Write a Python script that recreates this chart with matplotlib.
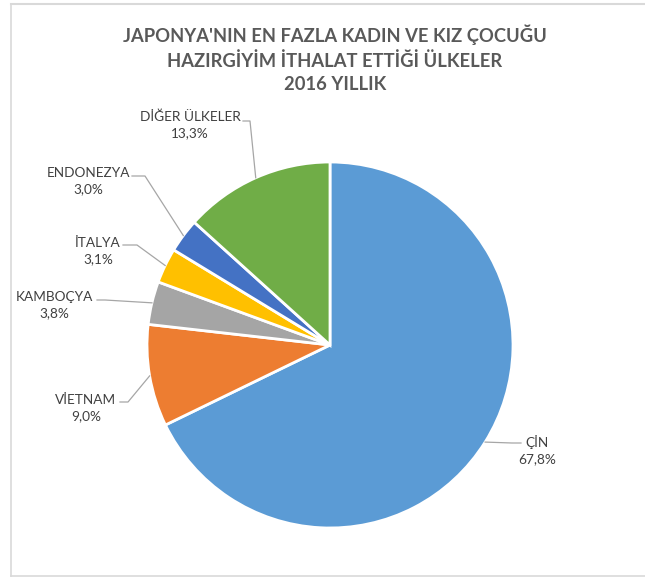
import numpy as np
import matplotlib.pyplot as plt
from matplotlib.lines import Line2D

# data
countries = ["ÇİN", "VİETNAM", "KAMBOÇYA", "İTALYA", "ENDONEZYA", "DİĞER ÜLKELER"]
shares = [67.8, 9.0, 3.8, 3.1, 3.0, 13.3]
colors = ["#5B9BD5", "#ED7D31", "#A5A5A5", "#FFC000", "#4472C4", "#70AD47"]

title = "JAPONYA'NIN EN FAZLA KADIN VE KIZ ÇOCUĞU\nHAZIRGİYİM İTHALAT ETTİĞİ ÜLKELER\n2016 YILLIK"

W, H = 645, 577
# label layout in pixels (text centre, leader start, leader elbow)
label_pos = [(537, 450), (86, 408), (54, 305), (98, 251), (88, 181), (190, 125)]
leader_start = [(521, 443), (120, 402), (97, 300), (123, 245), (132, 176), (243, 121)]
leader_elbow = [(512, 443), (128, 402), (105, 300), (137, 245), (145, 176), (250, 121)]

plt.rcParams["font.family"] = ["Lato", "DejaVu Sans"]

fig = plt.figure(figsize=(W / 100, H / 100), dpi=100)
ax = fig.add_axes([0, 0, 1, 1])

cx, cy, r = 330, H - 345, 183
wedges, _ = ax.pie(shares, colors=colors, startangle=90, counterclock=False,
                   center=(cx, cy), radius=r,
                   wedgeprops=dict(edgecolor="white", linewidth=2))
ax.set_xlim(0, W)
ax.set_ylim(0, H)
ax.set_aspect("equal")
ax.axis("off")

for w, name, val, (tx, ty), (sx, sy), (ex, ey) in zip(wedges, countries, shares,
                                                       label_pos, leader_start, leader_elbow):
    mid = np.deg2rad((w.theta1 + w.theta2) / 2)
    px, py = cx + r * np.cos(mid), cy + r * np.sin(mid)
    ax.plot([sx, ex, px], [H - sy, H - ey, py], color="#A6A6A6", lw=0.9, zorder=1)
    pct = f"{val:.1f}%".replace(".", ",")
    ax.text(tx, H - ty, f"{name}\n{pct}", ha="center", va="center",
            fontsize=9.8, color="#404040", linespacing=1.4)

fig.text(335 / W, 1 - 59 / H, title, ha="center", va="center", fontsize=13.2,
         fontweight="bold", color="#595959", linespacing=1.45)

# chart frame
frame = "#D9D9D9"
fig.add_artist(Line2D([11 / W, 1], [1 - 4 / H, 1 - 4 / H], color=frame, lw=1.5))
fig.add_artist(Line2D([11 / W, 11 / W], [1 - 4 / H, 1 - 576 / H], color=frame, lw=1.2))
fig.add_artist(Line2D([11 / W, 1], [1 - 576 / H, 1 - 576 / H], color=frame, lw=1.2))

fig.savefig("out.png", dpi=100)
